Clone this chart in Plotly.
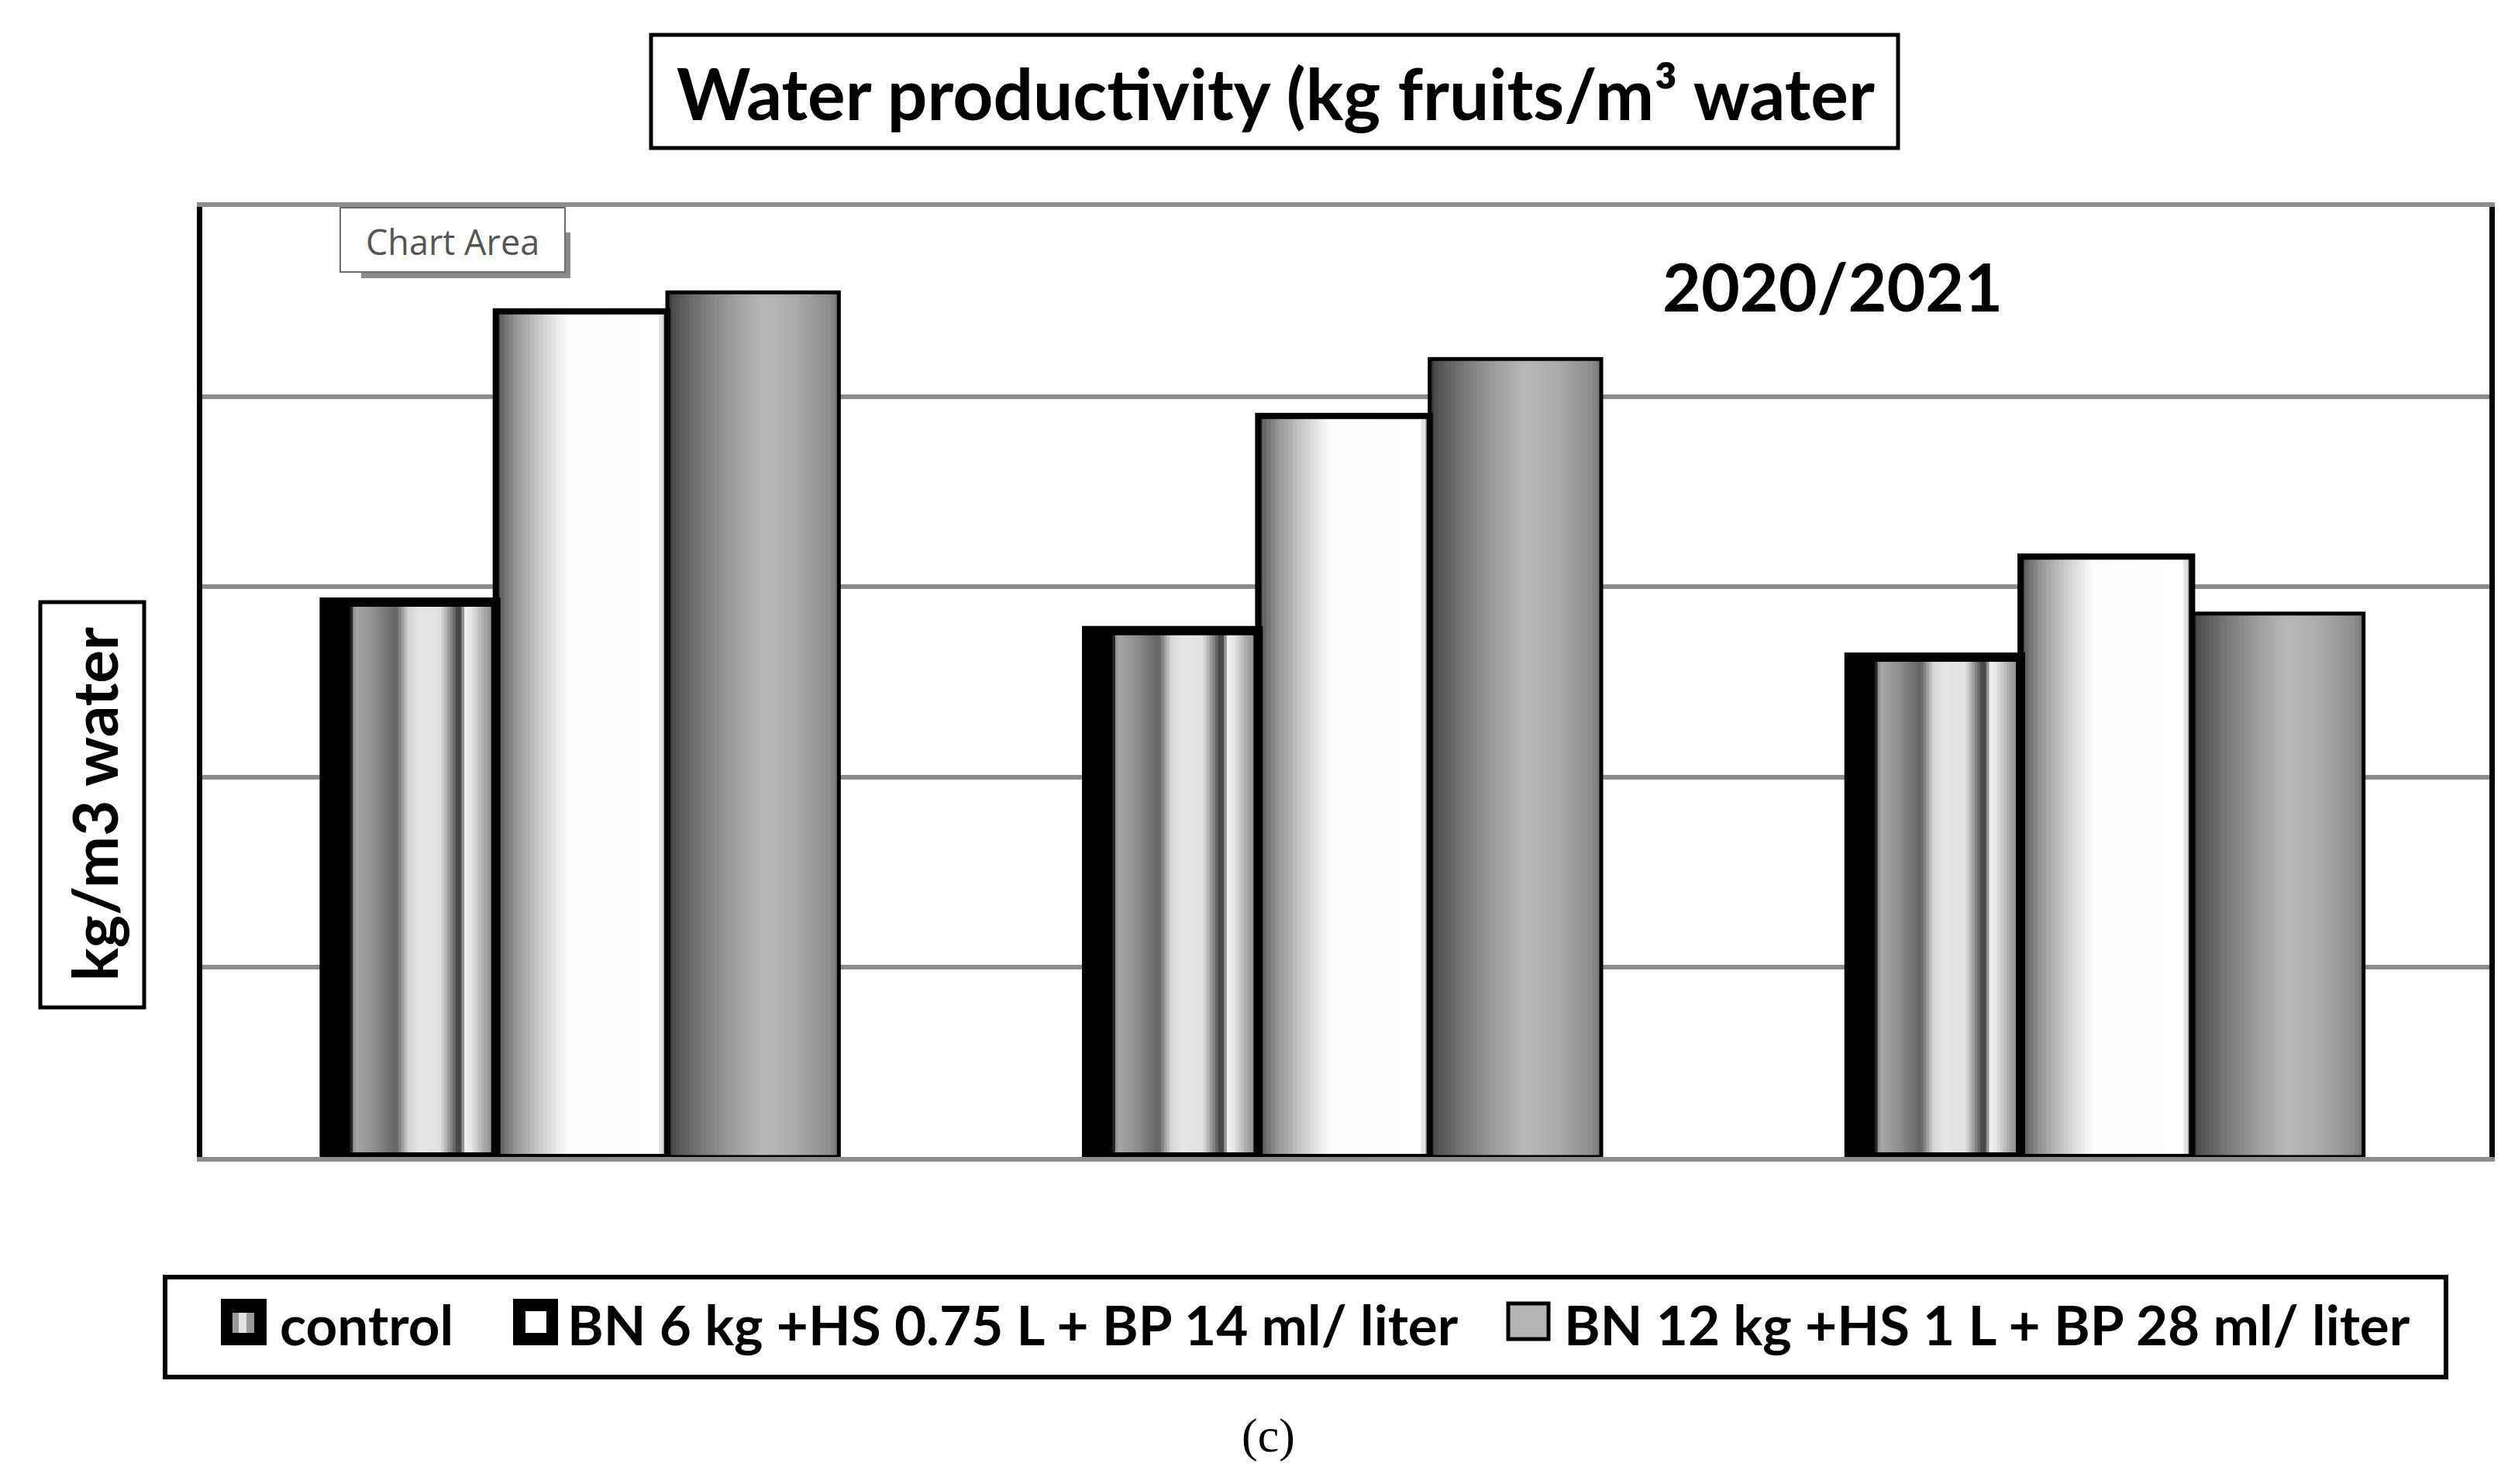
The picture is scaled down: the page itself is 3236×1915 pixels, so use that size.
import plotly.graph_objects as go

# data (grid units, axis has no printed ticks)
groups = ["G1", "G2", "G3"]
series_names = [
    "control",
    "BN 6 kg +HS 0.75 L + BP 14 ml/ liter",
    "BN 12 kg +HS 1 L + BP 28 ml/ liter",
]
control = [2.92, 2.77, 2.63]
bn6 = [4.45, 3.90, 3.16]
bn12 = [4.55, 4.20, 2.86]

W, H = 3236, 1915
L, R, T, B = 253, 3204, 259, 1485  # plot area in pixels


def px(x):
    return (x - L) / (R - L)


def py(y):
    return (B - y) / (B - T)


# horizontal shading of each bar: (fraction across bar, grey level)
shade_control = [(0, 0), (0.155, 0), (0.165, 0x70), (0.18, 0xa8), (0.30, 0x8c),
                 (0.42, 0x62), (0.49, 0xd4), (0.55, 0xe6), (0.68, 0xe0),
                 (0.74, 0x84), (0.78, 0x40), (0.80, 0x50), (0.82, 0xf2),
                 (0.86, 0xe6), (0.93, 0xaa), (1.0, 0x80)]
shade_bn6 = [(0, 0x30), (0.03, 0x62), (0.12, 0x98), (0.28, 0xd2), (0.42, 0xfc),
             (0.94, 0xff), (0.97, 0xd8), (1.0, 0x80)]
shade_bn12 = [(0, 0x30), (0.04, 0x50), (0.2, 0x78), (0.35, 0x98), (0.55, 0xb8),
              (0.75, 0xaa), (0.95, 0x8c), (1.0, 0x70)]


def grey(stops, f):
    for (a, ga), (b, gb) in zip(stops, stops[1:]):
        if a <= f <= b:
            g = ga + (gb - ga) * (f - a) / (b - a if b > a else 1)
            g = int(round(g))
            return f"rgb({g},{g},{g})"
    g = stops[-1][1]
    return f"rgb({g},{g},{g})"


bar_w = 0.225
bars = [
    (control, -0.34, shade_control, 60, 12),
    (bn6, -0.115, shade_bn6, 40, 8),
    (bn12, 0.11, shade_bn12, 40, 5),
]

fig = go.Figure()

for vals, off, stops, n, _ in bars:
    step = bar_w / n
    for i in range(n):
        fig.add_trace(go.Bar(
            x=groups, y=vals,
            offset=off + i * step,
            width=step * 1.35 if i < n - 1 else step,
            marker=dict(color=grey(stops, (i + 0.5) / n), line=dict(width=0)),
            showlegend=False, hoverinfo="skip",
        ))

for (vals, off, stops, n, lw), name in zip(bars, series_names):
    fig.add_trace(go.Bar(
        x=groups, y=vals, name=name,
        offset=off, width=bar_w,
        marker=dict(color="rgba(0,0,0,0)", line=dict(color="black", width=lw)),
        showlegend=False,
        hovertemplate=name + ": %{y}<extra></extra>",
    ))

shapes = []
annotations = []


def label(x, y, text, size, family="Lato", color="black", xanchor="center", **kw):
    annotations.append(dict(xref="paper", yref="paper", x=px(x), y=py(y),
                            xanchor=xanchor, yanchor="middle", text=text,
                            showarrow=False, font=dict(family=family, size=size, color=color),
                            **kw))


def box(x0, x1, y0, y1, fill="white", line_color="black", lw=5):
    shapes.append(dict(type="rect", xref="paper", yref="paper",
                       x0=px(x0), x1=px(x1), y0=py(y1), y1=py(y0),
                       line=dict(color=line_color, width=lw), fillcolor=fill))


# title box
box(832, 2441, 37, 183)
label(1638, 112, "<b>Water productivity (kg fruits/m³ water</b>", 91)

# "Chart Area" tooltip box with shadow
box(458, 728, 292, 351, fill="#8a8a8a", lw=0)
box(431, 721, 260, 343, line_color="#6e6e6e", lw=2)
label(576, 303, "Chart Area", 45, family="Open Sans", color="#555555")

# season label
label(2356, 360, "<b>2020/2021</b>", 86)

# y-axis title box
box(44, 178, 769, 1292)
label(113, 1030, "<b>kg/m3 water</b>", 80, textangle=-90)

# legend box and swatches
box(205, 3148, 1640, 1769, lw=6)
box(277, 336, 1668, 1728, fill="black", lw=0)
box(292, 320, 1686, 1712, fill="#9a9a9a", lw=0)
box(300, 310, 1686, 1712, fill="#e2e2e2", lw=0)
box(654, 712, 1668, 1728, fill="black", lw=0)
box(670, 697, 1684, 1712, fill="white", lw=0)
box(1938, 1990, 1674, 1720, fill="#b4b4b4", lw=5)

legend_x = [351, 722, 2008]
for name, lx in zip(series_names, legend_x):
    label(lx, 1700, f"<b>{name}</b>", 71, xanchor="left")

# panel label
label(1628, 1844, "(c)", 62, family="Liberation Serif")

fig.update_layout(
    width=W, height=H,
    margin=dict(l=L, r=W - R, t=T, b=H - B, pad=0),
    paper_bgcolor="white", plot_bgcolor="white",
    barmode="overlay",
    shapes=shapes, annotations=annotations,
    showlegend=False,
)
fig.update_xaxes(showticklabels=False, ticks="", showgrid=False,
                 showline=True, linecolor="#8c8c8c", linewidth=6, mirror=True)
fig.update_yaxes(range=[0, 5], dtick=1, showticklabels=False, ticks="",
                 showgrid=True, gridcolor="#8c8c8c", gridwidth=6, zeroline=False,
                 showline=True, linecolor="black", linewidth=7, mirror=True)

fig.write_html("out.html")
